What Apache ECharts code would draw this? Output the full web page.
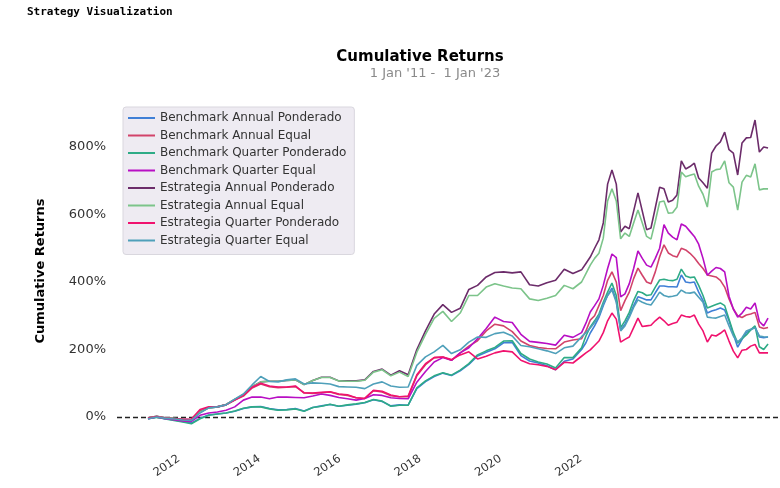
<!DOCTYPE html>
<html><head><meta charset="utf-8">
<script src="https://cdn.jsdelivr.net/npm/echarts@6/dist/echarts.min.js"></script>
<style>html,body{margin:0;padding:0;background:#fff}#c{width:780px;height:488px}</style>
</head><body><div id="c"></div>
<script>
// month index since start (Jan '11), sampled every 2 months then monthly
const months = [0,2,4,6,8,10,12,14,16,18,20,22,24,26,28,30,32,34,36,38,40,42,44,46,48,50,52,54,56,58,60,
62,64,66,68,70,72,74,76,78,80,82,84,86,88,90,92,94,96,98,
100,101,102,103,104,105,106,107,108,109,110,111,112,113,114,115,116,117,118,119,120,121,122,123,124,125,126,127,128,129,130,131,132,133,134,135,136,137,138,139,140,141,142,143];

const seriesNames = ['Benchmark Annual Ponderado','Benchmark Annual Equal','Benchmark Quarter Ponderado','Benchmark Quarter Equal',
  'Estrategia Annual Ponderado','Estrategia Annual Equal','Estrategia Quarter Ponderado','Estrategia Quarter Equal'];

const benchAnnualPonderado = [-5,0,-5,-9,-13,-18,-4,6,9,12,17,25,30,31,25,21,22,25,18,28,33,37,32,35,38,42,51,46,33,36,35,
84,105,120,130,123,137,156,181,192,202,220,221,182,166,160,152,140,165,172,
200,220,249,270,295,330,360,382,345,258,275,300,330,356,352,347,347,368,388,388,386,386,385,421,400,398,400,370,345,308,314,318,323,317,285,245,207,230,250,258,267,237,235,237];

const benchAnnualEqual = [-3,1,-3,-5,-8,-8,18,28,30,36,50,62,86,98,90,87,88,90,72,70,72,74,67,64,57,55,78,74,63,60,60,
122,155,176,178,168,190,210,226,255,275,270,253,225,212,206,203,202,222,228,
232,255,287,300,330,360,405,430,400,315,345,370,410,441,420,400,395,430,475,510,486,478,474,500,495,485,472,455,440,421,418,415,405,385,350,320,300,295,302,305,310,267,262,265];

const benchQuarterPonderado = [-5,-1,-6,-10,-15,-20,-5,5,9,12,18,26,30,30,24,20,21,24,17,28,32,38,32,36,39,43,52,47,32,35,35,
86,107,122,131,124,139,158,184,196,206,225,226,188,172,163,157,145,176,176,
205,240,267,285,305,340,370,397,360,265,285,310,345,372,368,360,362,385,406,408,405,404,408,438,418,413,415,390,360,323,328,333,338,330,290,250,219,232,243,258,270,208,200,216];

const benchQuarterEqual = [-5,0,-5,-8,-12,-13,5,12,15,20,30,50,59,59,54,59,59,58,57,62,68,64,58,54,50,55,66,64,57,55,54,
103,135,163,176,168,190,205,232,262,296,283,280,245,224,221,218,213,242,236,
250,278,311,330,350,390,440,483,472,356,365,395,440,492,470,450,444,470,500,570,545,533,525,572,565,550,535,512,470,420,432,443,440,430,358,320,296,308,325,320,338,283,270,293];

const estAnnualPonderado = [-2,2,-2,-4,-7,-8,15,27,30,37,52,66,90,104,106,106,108,110,96,108,118,118,107,107,107,110,135,142,124,137,125,
200,255,305,333,310,322,378,390,415,428,430,427,430,392,388,398,405,438,425,
436,455,474,500,525,575,690,732,690,548,565,558,610,664,610,555,560,620,681,676,637,642,658,759,735,742,752,708,694,678,782,803,815,844,792,782,717,812,827,828,880,785,800,797];

const estAnnualEqual = [-2,2,-2,-4,-7,-8,15,27,30,37,52,66,90,104,106,106,108,110,96,108,117,117,107,106,106,109,133,140,122,133,120,
192,245,292,313,283,308,360,360,385,395,388,382,380,350,345,352,360,390,380,
400,425,450,470,485,530,640,676,640,528,545,535,575,613,575,535,527,580,637,640,604,605,622,726,712,716,720,684,660,622,726,733,735,759,694,681,613,696,716,711,750,673,676,676];

const estQuarterPonderado = [-3,1,-3,-5,-7,-6,22,30,30,36,50,64,88,100,92,89,89,92,71,71,73,75,68,66,57,55,79,76,65,60,62,
125,158,176,178,170,184,193,172,180,190,196,193,168,158,155,150,140,162,160,
180,190,199,212,225,250,285,308,290,222,230,237,265,293,268,270,272,285,296,285,272,277,281,302,298,296,302,275,255,222,243,240,248,258,225,195,175,198,200,210,215,190,190,190];

const estQuarterEqual = [-5,0,-4,-6,-9,-10,12,27,30,36,53,68,95,120,105,104,110,113,98,101,100,98,90,89,88,84,98,104,92,88,89,
153,178,193,212,188,199,222,237,236,247,251,240,212,208,202,196,188,205,210,
238,250,264,280,300,335,360,376,340,255,270,295,325,347,340,335,332,350,370,360,356,358,361,376,368,367,370,355,340,296,294,293,298,302,270,240,222,235,255,260,264,240,238,237];

const xTickLabels = ['2012','2014','2016','2018','2020','2022'];
const yTickLabels = [0,200,400,600,800];

const seriesValues = [benchAnnualPonderado, benchAnnualEqual, benchQuarterPonderado, benchQuarterEqual,
  estAnnualPonderado, estAnnualEqual, estQuarterPonderado, estQuarterEqual];
const colors = ['#3f7fd6','#d2436a','#2eab86','#b80fc4','#6c2c6a','#7cc48a','#f0126e','#4fa0ba'];

// tick placement of the year labels on the month axis
const firstTick = 7.15, monthsPerLabelStep = 18.54;
const tickVals = xTickLabels.map((t,i)=> firstTick + i*monthsPerLabelStep);

const chart = echarts.init(document.getElementById('c'), null, {renderer:'canvas'});
const FONT = "'DejaVu Sans', sans-serif";
const series = seriesNames.map((name,k)=>({
  name, type:'line', showSymbol:false, symbol:'none', smooth:false,
  data: months.map((m,i)=>[m, seriesValues[k][i]]),
  lineStyle:{width:1.6, color:colors[k]}, itemStyle:{color:colors[k]},
  z: 3 + k
}));
series[0].markLine = {
  silent:true, symbol:'none', label:{show:false},
  lineStyle:{type:[5,3], color:'#222', width:1.4},
  data:[{yAxis:0}], z:1
};

chart.setOption({
  animation:false,
  backgroundColor:'#fff',
  color: colors,
  grid:{left:117, top:113.25, width:682, height:337.5, containLabel:false, outerBoundsMode:'none'},
  xAxis:{
    type:'value', min:-7.15, max:150.14,
    axisLine:{show:false}, axisTick:{show:false}, splitLine:{show:false},
    axisLabel:{
      customValues: tickVals, rotate:34, margin:7,
      color:'#333', fontSize:11.5, fontFamily:FONT,
      formatter:(v)=>{ const i = tickVals.findIndex(t=>Math.abs(t-v)<0.01); return i>=0 ? xTickLabels[i] : ''; }
    }
  },
  yAxis:{
    type:'value', min:-100, max:900, interval:100,
    axisLine:{show:false}, axisTick:{show:false}, splitLine:{show:false},
    axisLabel:{
      color:'#333', fontSize:13, fontFamily:FONT, margin:11,
      formatter:(v)=> yTickLabels.includes(v) ? v+'%' : ''
    }
  },
  legend:{
    data: seriesNames, orient:'vertical', left:123, top:107,
    icon:'rect', itemWidth:27, itemHeight:2, itemGap:3.5,
    padding:[4,8,7,5],
    backgroundColor:'#EEEBF2', borderColor:'#d9d7de', borderWidth:1, borderRadius:3,
    textStyle:{fontSize:12, color:'#333', fontFamily:FONT, lineHeight:14}
  },
  graphic:[
    {type:'text', x:27, y:12, style:{text:'Strategy Visualization', font:"bold 11px 'DejaVu Sans Mono', monospace", fill:'#000', textVerticalAlign:'middle'}},
    {type:'text', x:420, y:57, style:{text:'Cumulative Returns', font:"bold 15px 'DejaVu Sans', sans-serif", fill:'#000', textAlign:'center', textVerticalAlign:'middle'}},
    {type:'text', x:435, y:74, style:{text:"1 Jan '11 -  1 Jan '23", font:"13px 'DejaVu Sans', sans-serif", fill:'#8a8a8a', textAlign:'center', textVerticalAlign:'middle'}},
    {type:'text', x:41, y:271, rotation:Math.PI/2, style:{text:'Cumulative Returns', font:"bold 13px 'DejaVu Sans', sans-serif", fill:'#000', textAlign:'center', textVerticalAlign:'middle'}}
  ],
  series
});
</script></body></html>
